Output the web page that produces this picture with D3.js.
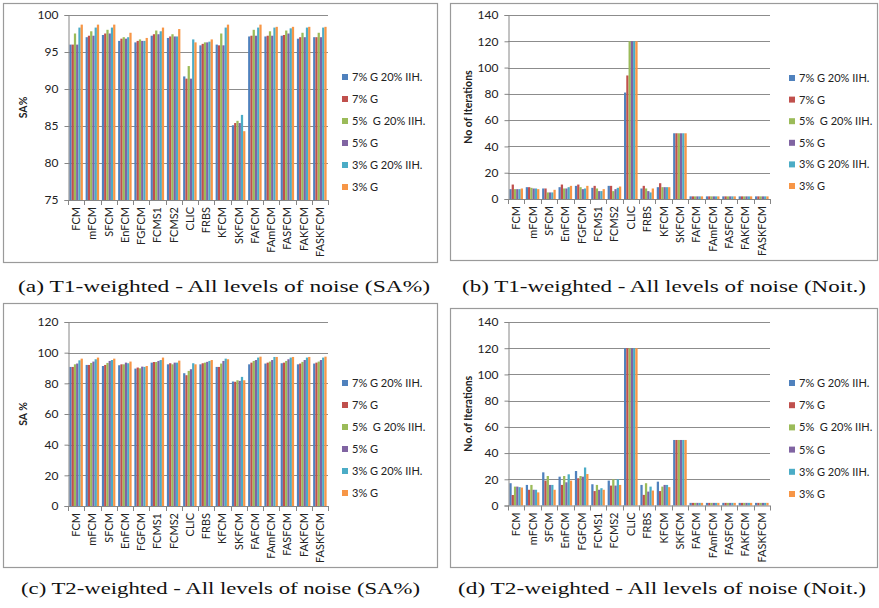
<!DOCTYPE html>
<html>
<head>
<meta charset="utf-8">
<script src="https://cdn.jsdelivr.net/npm/d3@7"></script>
<style>
  body { margin: 0; background: #fff; }
  svg { display: block; }
  .tick text { font-family: Lato, 'Open Sans', sans-serif; fill: #222; }
  .caption { font-family: 'Liberation Serif', 'Times New Roman', Times, serif; }
</style>
</head>
<body>
<div id="chart"></div>
<script>
const categories = ['FCM', 'mFCM', 'SFCM', 'EnFCM', 'FGFCM', 'FCMS1', 'FCMS2', 'CLIC',
  'FRBS', 'KFCM', 'SKFCM', 'FAFCM', 'FAmFCM', 'FASFCM', 'FAKFCM', 'FASKFCM']

const seriesNames = ['7% G 20% IIH.', '7% G', '5%  G 20% IIH.', '5% G', '3% G 20% IIH.', '3% G']
const seriesColors = ['#4f81bd', '#c0504d', '#9bbb59', '#8064a2', '#4bacc6', '#f79646']

// one row per category, one value per series (same order as seriesNames)
const t1SA = [
  [96.0, 96.0, 97.5, 96.0, 98.3, 98.7],
  [97.0, 97.2, 97.8, 97.2, 98.3, 98.7],
  [97.3, 97.5, 98.0, 97.5, 98.3, 98.7],
  [96.5, 96.8, 97.0, 96.8, 97.0, 97.6],
  [96.3, 96.5, 96.7, 96.5, 96.5, 96.9],
  [97.2, 97.4, 97.9, 97.4, 97.8, 98.3],
  [96.9, 97.1, 97.4, 97.1, 97.1, 98.1],
  [91.7, 91.4, 93.1, 91.4, 96.7, 96.3],
  [95.9, 96.1, 96.3, 96.3, 96.4, 96.7],
  [96.0, 95.9, 97.5, 95.9, 98.3, 98.7],
  [85.1, 85.4, 85.7, 85.4, 86.5, 84.3],
  [97.1, 97.2, 98.0, 97.2, 98.3, 98.7],
  [97.1, 97.2, 97.8, 97.2, 98.3, 98.4],
  [97.2, 97.3, 97.9, 97.5, 98.2, 98.4],
  [96.8, 97.0, 97.6, 97.0, 98.3, 98.4],
  [97.0, 97.0, 97.6, 97.0, 98.3, 98.4]
]

const t1Iter = [
  [7.5, 11, 7.5, 7.5, 7.5, 8],
  [9, 9, 8.5, 8, 8, 7.5],
  [8, 8, 5, 5, 5, 7],
  [9, 11, 8, 8, 9, 10],
  [10, 11, 9, 7.5, 8, 10],
  [8.5, 10, 8, 6, 6, 7.5],
  [10, 10, 6, 7.5, 8.5, 9.5],
  [81, 94, 120, 120, 120, 120],
  [8, 10, 8, 6, 5, 8],
  [9, 12, 9, 9, 9, 9],
  [50, 50, 50, 50, 50, 50],
  [2, 2, 2, 2, 2, 2],
  [2, 2, 2, 2, 2, 2],
  [2, 2, 2, 2, 2, 2],
  [2, 2, 2, 2, 2, 2],
  [2, 2, 2, 2, 2, 2]
]

const t2SA = [
  [90.7, 90.7, 92.4, 92.9, 95.0, 96.1],
  [92.0, 92.0, 93.3, 94.2, 95.7, 96.8],
  [91.3, 92.0, 93.3, 94.6, 95.2, 96.1],
  [91.8, 92.4, 92.4, 93.5, 93.1, 94.2],
  [89.6, 90.3, 89.8, 90.9, 90.7, 91.3],
  [93.5, 93.9, 93.9, 94.6, 95.2, 96.8],
  [92.4, 93.1, 92.4, 93.5, 93.5, 94.8],
  [86.6, 85.3, 88.1, 89.2, 93.1, 92.4],
  [92.4, 93.1, 93.5, 94.0, 94.6, 95.2],
  [90.7, 90.7, 92.9, 94.6, 96.1, 95.7],
  [81.2, 81.0, 82.0, 81.6, 84.2, 82.0],
  [92.4, 93.5, 94.6, 95.2, 96.8, 97.4],
  [92.9, 93.5, 94.2, 95.2, 97.2, 97.2],
  [93.1, 93.5, 94.6, 95.7, 96.8, 97.2],
  [92.4, 92.9, 94.0, 95.2, 96.8, 97.2],
  [92.9, 93.5, 94.2, 95.2, 96.8, 97.4]
]

const t2Iter = [
  [17, 8, 14.4, 14.4, 14, 13.7],
  [15.7, 12, 15.7, 12, 12, 10],
  [25.3, 19, 22.5, 15.7, 15.7, 12],
  [22, 15.7, 22.5, 17.7, 23.8, 19],
  [26.3, 20.8, 22.5, 22, 29, 24],
  [16.2, 11, 15.7, 12, 13.2, 12],
  [19, 15.2, 20, 15.2, 20, 15.7],
  [120, 120, 120, 120, 120, 120],
  [15.7, 8.1, 17, 10.6, 14.4, 11.4],
  [18.2, 11, 14.4, 15.7, 15.7, 14],
  [50, 50, 50, 50, 50, 50],
  [2, 2, 2, 2, 2, 2],
  [2, 2, 2, 2, 2, 2],
  [2, 2, 2, 2, 2, 2],
  [2, 2, 2, 2, 2, 2],
  [2, 2, 2, 2, 2, 2]
]

const width = 879
const height = 608

const svg = d3.select('#chart')
  .append('svg')
  .attr('width', width)
  .attr('height', height)

const panels = [
  {
    data: t1SA, box: [3, 3, 437, 262], plot: { left: 68, right: 328, top: 15, bottom: 200 },
    domain: [75, 100], ticks: d3.range(75, 101, 5), yTitle: 'SA%', yTitleX: 23,
    legendX: 342, legendY: 77, legendStep: 22,
    caption: '(a) T1-weighted - All levels of noise (SA%)', capX: 18, capW: 412, capY: 292
  },
  {
    data: t1Iter, box: [450, 3, 877, 260], plot: { left: 508, right: 770, top: 15, bottom: 199 },
    domain: [0, 140], ticks: d3.range(0, 141, 20), yTitle: 'No of Iterations', yTitleX: 468,
    legendX: 789, legendY: 78, legendStep: 21.6,
    caption: '(b) T1-weighted - All levels of noise (Noit.)', capX: 462, capW: 404, capY: 292
  },
  {
    data: t2SA, box: [3, 303, 437, 567], plot: { left: 68, right: 328, top: 322, bottom: 506 },
    domain: [0, 120], ticks: d3.range(0, 121, 20), yTitle: 'SA %', yTitleX: 23,
    legendX: 342, legendY: 383, legendStep: 22,
    caption: '(c) T2-weighted - All levels of noise (SA%)', capX: 21, capW: 399, capY: 594
  },
  {
    data: t2Iter, box: [450, 308, 877, 567], plot: { left: 508, right: 770, top: 322, bottom: 505.5 },
    domain: [0, 140], ticks: d3.range(0, 141, 20), yTitle: 'No. of Iterations', yTitleX: 468,
    legendX: 789, legendY: 383, legendStep: 22.2,
    caption: '(d) T2-weighted - All levels of noise (Noit.)', capX: 458, capW: 408, capY: 594
  }
]

panels.forEach(drawPanel)

function drawPanel(p) {
  const g = svg.append('g')

  // chart area border
  g.append('rect')
    .attr('x', p.box[0] + 0.5)
    .attr('y', p.box[1] + 0.5)
    .attr('width', p.box[2] - p.box[0])
    .attr('height', p.box[3] - p.box[1])
    .attr('fill', 'none')
    .attr('stroke', '#9a9a9a')
    .attr('stroke-width', 1.2)

  const x0 = d3.scaleBand()
    .domain(categories)
    .range([p.plot.left, p.plot.right])
    .paddingInner(0.17)
    .paddingOuter(0.085)

  const x1 = d3.scaleBand()
    .domain(d3.range(seriesNames.length))
    .range([0, x0.bandwidth()])

  const y = d3.scaleLinear()
    .domain(p.domain)
    .range([p.plot.bottom, p.plot.top])

  // gridlines
  g.append('g')
    .selectAll('line')
    .data(p.ticks.slice(1))
    .enter()
    .append('line')
    .attr('x1', p.plot.left)
    .attr('x2', p.plot.right)
    .attr('y1', d => Math.round(y(d)) + 0.5)
    .attr('y2', d => Math.round(y(d)) + 0.5)
    .attr('stroke', '#8c8c8c')
    .attr('stroke-width', 1)

  // bars
  g.append('g')
    .selectAll('g')
    .data(p.data)
    .enter()
    .append('g')
    .attr('transform', (d, i) => 'translate(' + x0(categories[i]) + ',0)')
    .selectAll('rect')
    .data(d => d)
    .enter()
    .append('rect')
    .attr('x', (d, i) => x1(i))
    .attr('width', x1.bandwidth())
    .attr('y', d => y(d))
    .attr('height', d => y(p.domain[0]) - y(d))
    .attr('fill', (d, i) => seriesColors[i])

  // y axis
  const yAxis = d3.axisLeft(y)
    .tickValues(p.ticks)
    .tickSize(4)
    .tickPadding(6)

  const yG = g.append('g')
    .attr('transform', 'translate(' + (p.plot.left + 0.5) + ',0)')
    .call(yAxis)
  yG.selectAll('path, line').attr('stroke', '#868686')
  yG.selectAll('text').attr('font-size', 12).attr('fill', '#222')

  // x axis, ticks at category boundaries
  const step = x0.step()
  const boundaries = d3.range(categories.length + 1).map(i => p.plot.left + i * step)
  g.append('line')
    .attr('x1', p.plot.left)
    .attr('x2', p.plot.right)
    .attr('y1', p.plot.bottom + 0.5)
    .attr('y2', p.plot.bottom + 0.5)
    .attr('stroke', '#868686')
  g.append('g')
    .selectAll('line')
    .data(boundaries)
    .enter()
    .append('line')
    .attr('x1', d => Math.round(d) + 0.5)
    .attr('x2', d => Math.round(d) + 0.5)
    .attr('y1', p.plot.bottom)
    .attr('y2', p.plot.bottom + 5)
    .attr('stroke', '#868686')

  g.append('g')
    .selectAll('text')
    .data(categories)
    .enter()
    .append('text')
    .attr('transform', d => 'translate(' + (x0(d) + x0.bandwidth() / 2 + 4) + ',' + (p.plot.bottom + 7) + ') rotate(-90)')
    .attr('text-anchor', 'end')
    .attr('font-family', 'Lato, sans-serif')
    .attr('font-size', 11)
    .attr('fill', '#222')
    .text(d => d)

  // y axis title
  g.append('text')
    .attr('transform', 'translate(' + (p.yTitleX + 4) + ',' + ((p.plot.top + p.plot.bottom) / 2) + ') rotate(-90)')
    .attr('text-anchor', 'middle')
    .attr('font-family', 'Lato, sans-serif')
    .attr('font-weight', 'bold')
    .attr('font-size', 10.5)
    .attr('fill', '#222')
    .text(p.yTitle)

  // legend
  const legend = g.append('g')
    .selectAll('g')
    .data(seriesNames)
    .enter()
    .append('g')
    .attr('transform', (d, i) => 'translate(' + p.legendX + ',' + (p.legendY + i * p.legendStep) + ')')

  legend.append('rect')
    .attr('x', 0)
    .attr('y', -3)
    .attr('width', 6)
    .attr('height', 6)
    .attr('fill', (d, i) => seriesColors[i])

  legend.append('text')
    .attr('x', 10)
    .attr('y', 4)
    .attr('font-family', 'Lato, sans-serif')
    .attr('font-size', 11)
    .attr('fill', '#222')
    .style('white-space', 'pre')
    .text(d => d)

  // caption under the chart
  svg.append('text')
    .attr('class', 'caption')
    .attr('x', p.capX)
    .attr('y', p.capY)
    .attr('font-size', 17.5)
    .attr('fill', '#111')
    .attr('textLength', p.capW)
    .attr('lengthAdjust', 'spacingAndGlyphs')
    .text(p.caption)
}
</script>
</body>
</html>
